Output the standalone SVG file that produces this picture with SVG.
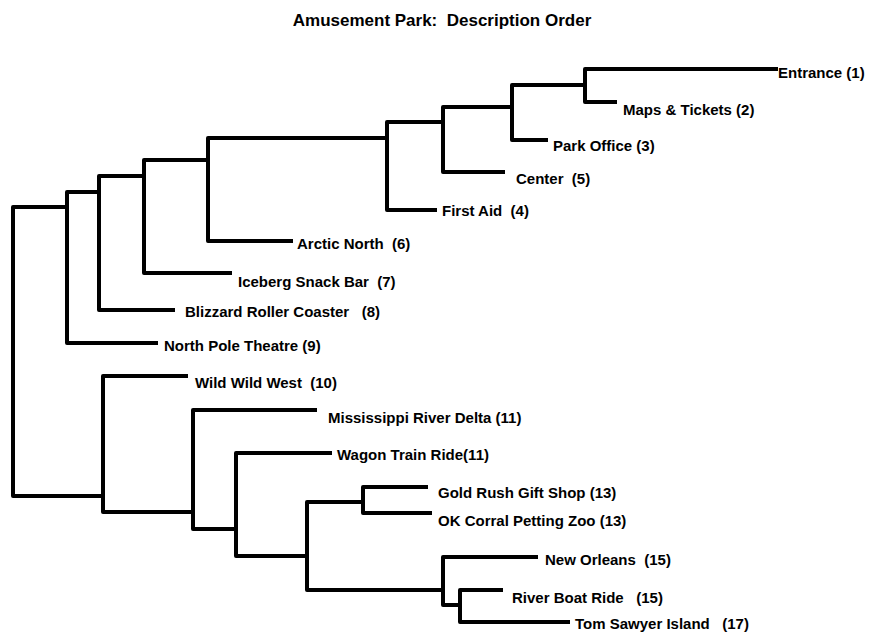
<svg xmlns="http://www.w3.org/2000/svg" width="870" height="632" viewBox="0 0 870 632">
<style>
  .bg { fill: #ffffff; }
  .title { font-family: "Liberation Sans", Arial, sans-serif; font-weight: bold; font-size: 17px; fill: #000; }
  .lbl { font-family: "Liberation Sans", Arial, sans-serif; font-weight: bold; font-size: 15px; fill: #000; white-space: pre; }
  .edge { fill: none; stroke: #000; stroke-width: 4; stroke-linejoin: round; stroke-linecap: butt; }
</style>
<rect class="bg" x="0" y="0" width="870" height="632"/>
<text class="title" x="442" y="26" text-anchor="middle" xml:space="preserve">Amusement Park:  Description Order</text>

<g id="connectors">
  <!-- root -->
  <path class="edge" d="M67,207 H13 V496 H103"/>
  <!-- upper clade -->
  <path class="edge" d="M99,192 H67 V343 H158"/>
  <path class="edge" d="M144,176 H99 V310 H175"/>
  <path class="edge" d="M208,160 H144 V273 H232"/>
  <path class="edge" d="M387,138 H208 V241 H293"/>
  <path class="edge" d="M443,122 H387 V210 H437"/>
  <path class="edge" d="M512,107 H443 V172 H505"/>
  <path class="edge" d="M585,85 H512 V140 H548"/>
  <path class="edge" d="M778,69 H585 V102 H617"/>
  <!-- lower clade -->
  <path class="edge" d="M188,376 H103 V512 H193"/>
  <path class="edge" d="M317,410 H193 V529 H236"/>
  <path class="edge" d="M332,453 H236 V556 H307"/>
  <path class="edge" d="M363,502 H307 V590 H443"/>
  <path class="edge" d="M428,487 H363 V513 H432"/>
  <path class="edge" d="M538,557 H443 V605 H460"/>
  <path class="edge" d="M503,590 H460 V622 H570"/>
</g>

<g id="n1"><text class="lbl" x="778" y="78" xml:space="preserve">Entrance (1)</text></g>
<g id="n2"><text class="lbl" x="623" y="115" xml:space="preserve">Maps &amp; Tickets (2)</text></g>
<g id="n3"><text class="lbl" x="553" y="151" xml:space="preserve">Park Office (3)</text></g>
<g id="n5"><text class="lbl" x="516" y="184" xml:space="preserve">Center  (5)</text></g>
<g id="n4"><text class="lbl" x="442" y="216" xml:space="preserve">First Aid  (4)</text></g>
<g id="n6"><text class="lbl" x="297" y="249" xml:space="preserve">Arctic North  (6)</text></g>
<g id="n7"><text class="lbl" x="238" y="287" xml:space="preserve">Iceberg Snack Bar  (7)</text></g>
<g id="n8"><text class="lbl" x="185" y="317" xml:space="preserve">Blizzard Roller Coaster   (8)</text></g>
<g id="n9"><text class="lbl" x="164" y="351" xml:space="preserve">North Pole Theatre (9)</text></g>
<g id="n10"><text class="lbl" x="195" y="388" xml:space="preserve">Wild Wild West  (10)</text></g>
<g id="n11a"><text class="lbl" x="328" y="423" xml:space="preserve">Mississippi River Delta (11)</text></g>
<g id="n11b"><text class="lbl" x="337" y="460" xml:space="preserve">Wagon Train Ride(11)</text></g>
<g id="n13a"><text class="lbl" x="438" y="498" xml:space="preserve">Gold Rush Gift Shop (13)</text></g>
<g id="n13b"><text class="lbl" x="438" y="526" xml:space="preserve">OK Corral Petting Zoo (13)</text></g>
<g id="n15a"><text class="lbl" x="545" y="565" xml:space="preserve">New Orleans  (15)</text></g>
<g id="n15b"><text class="lbl" x="512" y="603" xml:space="preserve">River Boat Ride   (15)</text></g>
<g id="n17"><text class="lbl" x="575" y="629" xml:space="preserve">Tom Sawyer Island   (17)</text></g>
</svg>
